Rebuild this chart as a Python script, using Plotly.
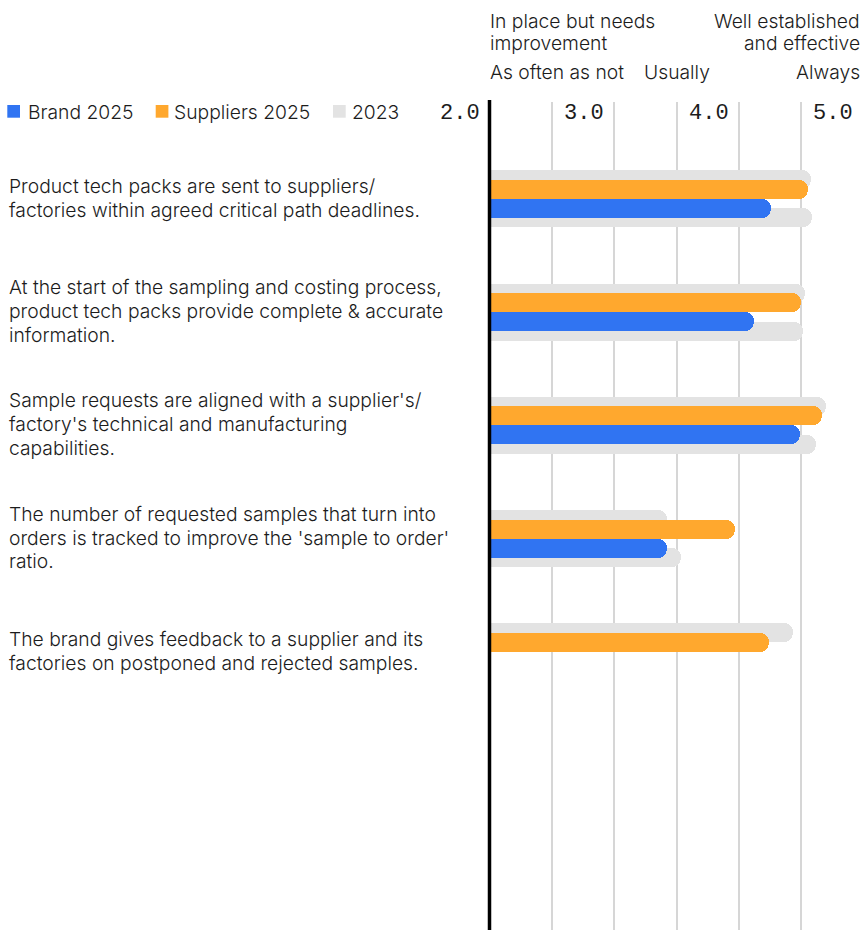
import plotly.graph_objects as go

# ---- data -------------------------------------------------------------
categories = [
    "Product tech packs are sent to suppliers/<br>factories within agreed critical path deadlines.",
    "At the start of the sampling and costing process,<br>product tech packs provide complete & accurate<br>information.",
    "Sample requests are aligned with a supplier's/<br>factory's technical and manufacturing<br>capabilities.",
    "The number of requested samples that turn into<br>orders is tracked to improve the 'sample to order'<br>ratio.",
    "The brand gives feedback to a supplier and its<br>factories on postponed and rejected samples.",
]
brand_2025 = [4.26, 4.12, 4.49, 3.42, None]
suppliers_2025 = [4.56, 4.50, 4.67, 3.97, 4.24]
brand_2023 = [4.59, 4.52, 4.62, 3.54, None]
suppliers_2023 = [4.58, 4.53, 4.70, 3.42, 4.44]

tick_values = [2, 3, 4, 5]
tick_labels = ["2.0", "3.0", "4.0", "5.0"]

# ---- styling ----------------------------------------------------------
W, H = 864, 930
BLUE = "#3074f2"
ORANGE = "#ffa82e"
GREY = "#e3e3e3"
GRID = "#d6d6d6"
TEXT = "#1c1c1c"
FONT = "Inter"
FSIZE = 19.3
WEIGHT = 300
MONO = "Liberation Mono"

PLOT_LEFT, PLOT_TOP = 490, 102
ROW_PX = 113.3            # vertical pixels per category
BAR_PX = 19.0             # bar thickness in pixels
Y_TOP = -(198.7 - PLOT_TOP) / ROW_PX
Y_BOTTOM = Y_TOP + (H - PLOT_TOP) / ROW_PX
bw = BAR_PX / ROW_PX


def px(x):
    return x / W


def py(y):
    return 1 - y / H


ypos = list(range(len(categories)))

fig = go.Figure()


def add_bar(values, color, offset, name):
    fig.add_trace(go.Bar(
        y=ypos, x=values, orientation="h", name=name,
        marker=dict(color=color, cornerradius=10, line=dict(width=0)),
        width=bw, offset=offset, showlegend=False,
    ))


add_bar(suppliers_2023, GREY, -bw - bw / 2, "Suppliers 2023")
add_bar(brand_2023, GREY, bw / 2, "Brand 2023")
add_bar(suppliers_2025, ORANGE, -bw, "Suppliers 2025")
add_bar(brand_2025, BLUE, 0, "Brand 2025")

annotations = []

# category labels, one annotation per line, centred on the bar group
LINE_PX = 23.8
for i, text in enumerate(categories):
    lines = text.split("<br>")
    n = len(lines)
    for j, line in enumerate(lines):
        annotations.append(dict(
            xref="paper", yref="y", x=px(7), y=i, text=line,
            xanchor="left", yanchor="middle", showarrow=False,
            yshift=-((j - (n - 1) / 2) * LINE_PX) + 1,
            font=dict(family=FONT, size=FSIZE, color=TEXT, weight=WEIGHT),
        ))

# value scale labels next to the gridlines
for v, lab in zip(tick_values, tick_labels):
    annotations.append(dict(
        xref="x", yref="paper", x=v, y=py(114), text=lab,
        xanchor="right", yanchor="middle", showarrow=False, xshift=-8,
        font=dict(family=MONO, size=22, color=TEXT),
    ))

# scale descriptors above the chart
header = [
    ("In place but needs", 488, 21, "left"),
    ("improvement", 488, 43.5, "left"),
    ("Well established", 862, 21, "right"),
    ("and effective", 862, 43.5, "right"),
    ("As often as not", 488, 72, "left"),
    ("Usually", 642, 72, "left"),
    ("Always", 862, 72, "right"),
]
for text, x, y, anchor in header:
    annotations.append(dict(
        xref="paper", yref="paper", x=px(x), y=py(y), text=text,
        xanchor=anchor, yanchor="middle", showarrow=False,
        font=dict(family=FONT, size=FSIZE, color=TEXT, weight=WEIGHT),
    ))

# legend
legend_items = [("Brand 2025", BLUE, 7.3, 26), ("Suppliers 2025", ORANGE, 155.7, 172), ("2023", GREY, 333, 350)]
shapes = []
for name, color, sx, tx in legend_items:
    shapes.append(dict(
        type="rect", xref="paper", yref="paper",
        x0=px(sx), x1=px(sx + 12.7), y0=py(105), y1=py(117.7),
        fillcolor=color, line=dict(width=0),
    ))
    annotations.append(dict(
        xref="paper", yref="paper", x=px(tx), y=py(112), text=name,
        xanchor="left", yanchor="middle", showarrow=False,
        font=dict(family=FONT, size=FSIZE, color=TEXT, weight=WEIGHT),
    ))

# baseline at 2.0
shapes.append(dict(
    type="line", xref="paper", yref="paper", x0=px(489.5), x1=px(489.5),
    y0=0, y1=py(PLOT_TOP - 2),
    line=dict(color="black", width=3.5), layer="above",
))

fig.update_layout(
    width=W, height=H,
    margin=dict(l=0, r=0, t=0, b=0),
    paper_bgcolor="white", plot_bgcolor="white",
    barmode="overlay", bargap=0,
    showlegend=False,
    annotations=annotations, shapes=shapes,
    xaxis=dict(
        domain=[PLOT_LEFT / W, 1], range=[2, 5 + 1 / 124.33],
        tick0=2, dtick=0.5, showgrid=True, gridcolor=GRID, gridwidth=1.5,
        showticklabels=False, zeroline=False, showline=False, ticks="",
        fixedrange=True,
    ),
    yaxis=dict(
        domain=[0, py(PLOT_TOP)], range=[Y_BOTTOM, Y_TOP],
        visible=False, showgrid=False, zeroline=False, fixedrange=True,
    ),
)

fig.write_html("out.html")
